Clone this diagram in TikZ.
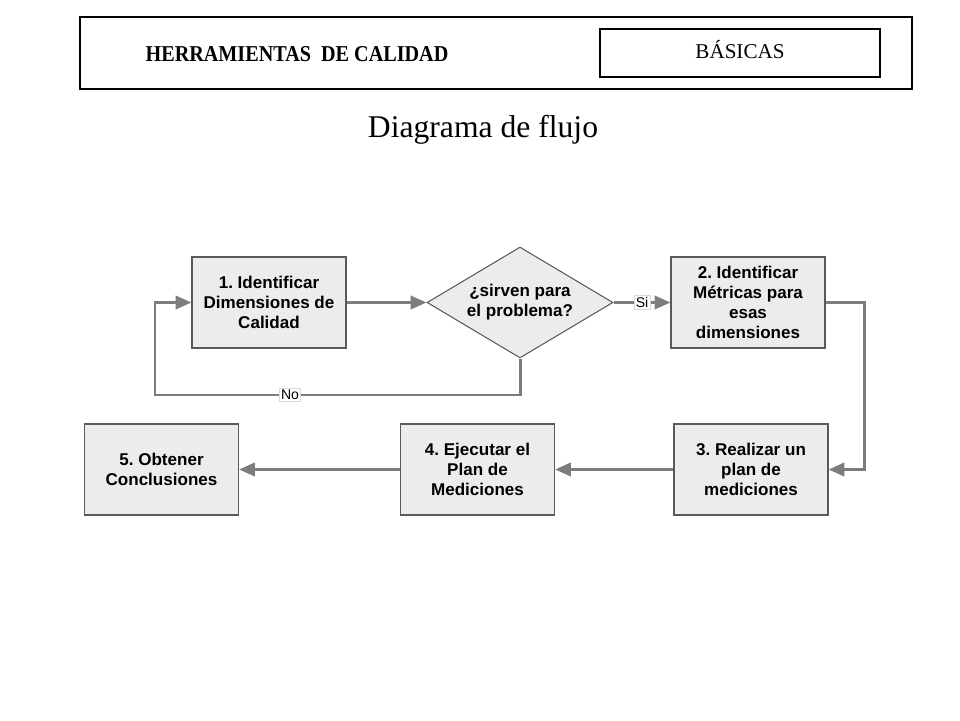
\documentclass[tikz,border=0pt]{standalone}
\usepackage{fontspec}
\setmainfont{Liberation Serif}
\setsansfont{Liberation Sans}
\usepackage{tikz}
\usetikzlibrary{positioning}
\usetikzlibrary{shapes.geometric, arrows.meta}
\definecolor{boxgray}{RGB}{236,236,236}
\definecolor{edgegray}{RGB}{90,90,90}
\definecolor{linegray}{RGB}{125,125,125}
\frenchspacing
\tikzstyle{frame} = [draw=black, line width=0.8pt, inner sep=0pt]
\tikzstyle{process} = [rectangle, minimum width=3.08cm, minimum height=1.82cm, align=center, draw=edgegray, line width=0.6pt, fill=boxgray, font=\sffamily\bfseries\fontsize{9.7}{11.4}\selectfont]
\tikzstyle{decision} = [diamond, aspect=1.68, minimum width=3.72cm, minimum height=2.22cm, inner sep=0pt, align=center, draw=edgegray, line width=0.6pt, fill=boxgray, font=\sffamily\bfseries\fontsize{9.7}{11.4}\selectfont]
\tikzstyle{arrow} = [line width=1.7pt, draw=linegray, -{Triangle[length=9pt,width=7.5pt]}]
\tikzstyle{tag} = [fill=white, draw=gray!30, line width=0.3pt, inner sep=1pt, font=\sffamily\fontsize{8}{9}\selectfont]

\begin{document}
\begin{tikzpicture}[x=0.02cm, y=-0.02cm]
\useasboundingbox (0,0) rectangle (960,720);
% header
\node[frame, minimum width=16.64cm, minimum height=1.44cm] (header) at (496,53) {};
\node[anchor=base, font=\bfseries\fontsize{12.9}{15}\selectfont] (herr) at (297,61) {\scalebox{0.89}[1]{HERRAMIENTAS~ DE CALIDAD}};
\node[frame, minimum width=5.6cm, minimum height=0.96cm] (basicasbox) at (740,53) {};
\node[anchor=base, font=\fontsize{12}{14}\selectfont] (basicas) at (740,58) {BÁSICAS};
\node[font=\fontsize{18}{21}\selectfont] (title) at (483,130) {Diagrama de flujo};
% pasos
\node[process] (dim) at (269,302.5) {1. Identificar\\Dimensiones de\\Calidad};
\node[decision] (ask) at (520,302.5) {¿sirven para\\el problema?};
\node[process] (met) at (748,302.5) {2. Identificar\\Métricas para\\esas\\dimensiones};
\node[process] (plan) at (751,469.5) {3. Realizar un\\plan de\\mediciones};
\node[process] (exec) at (477.5,469.5) {4. Ejecutar el\\Plan de\\Mediciones};
\node[process] (concl) at (161.5,469.5) {5. Obtener\\Conclusiones};
\coordinate (loop) at (155,395);
\coordinate (turn) at (864,302.5);
% conectores
\draw[arrow] (dim.east) -- (ask.west);
\draw[arrow] (ask.east) -- node[tag] (si) {Si} (met.west);
\draw[arrow] (ask.south) |- (loop) |- (dim.west);
\node[tag] (no) at (290,395) {No};
\draw[arrow] (met.east) -- (turn) |- (plan.east);
\draw[arrow] (plan.west) -- (exec.east);
\draw[arrow] (exec.west) -- (concl.east);
\end{tikzpicture}
\end{document}
